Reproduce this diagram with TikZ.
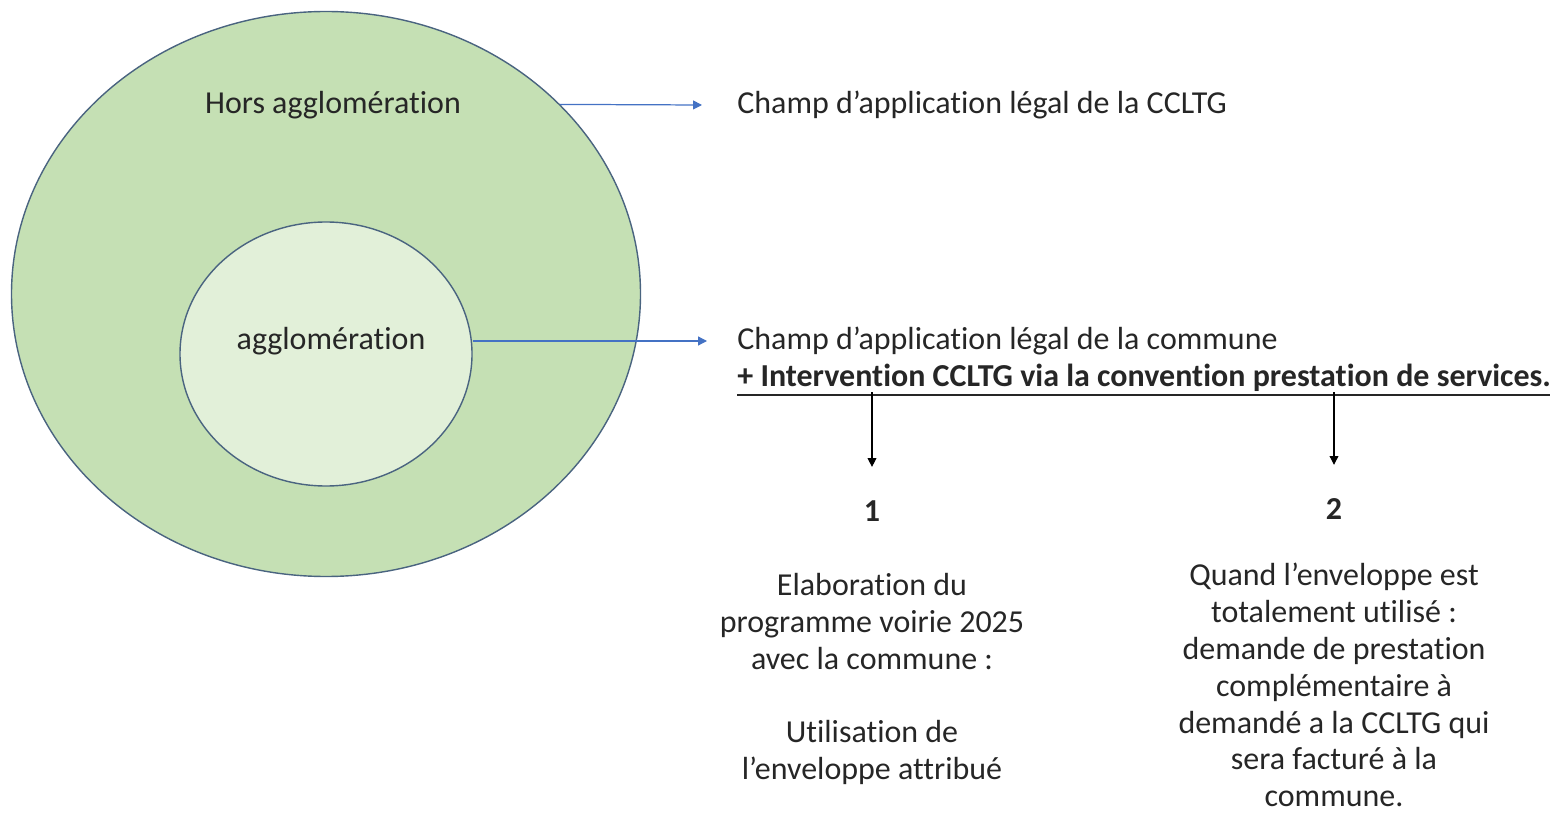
\documentclass[tikz,border=0pt]{standalone}
\usepackage{fontspec}
\setmainfont[Ligatures=NoCommon]{Carlito}
\usetikzlibrary{arrows.meta, positioning, calc, shapes.geometric}
\definecolor{outerfill}{RGB}{197,224,180}
\definecolor{innerfill}{RGB}{226,240,217}
\definecolor{rimcol}{RGB}{74,100,128}
\definecolor{linkblue}{RGB}{68,114,196}

\begin{document}
\begin{tikzpicture}[>={Triangle[length=5pt,width=5pt]}, every node/.style={font=\fontsize{18.2}{21}\selectfont, text=black!85}]
\useasboundingbox (0,0) rectangle (31,16.3);
% the two zones
\node[ellipse, draw=rimcol, line width=0.8pt, fill=outerfill, minimum width=12.58cm, minimum height=11.3cm, inner sep=0pt] (outer) at (6.52,10.42) {};
\node[ellipse, draw=rimcol, line width=0.8pt, fill=innerfill, minimum width=5.84cm, minimum height=5.28cm, inner sep=0pt] (inner) at (6.52,9.22) {};
\node (hors) at (6.66,14.2) {Hors agglomération};
\node (aggl) at (6.62,9.48) {agglomération};
% what applies to each zone
\node[anchor=west, inner sep=0pt] (champA) at (14.74,14.2) {Champ d’application légal de la CCLTG};
\node[anchor=west, inner sep=0pt] (champB) at (14.74,9.48) {Champ d’application légal de la commune};
\node[anchor=west, inner sep=0pt, font=\fontsize{18.2}{21}\selectfont\bfseries] (conv) at (14.74,8.74) {+ Intervention CCLTG via la convention prestation de services.};
\draw[black!85, line width=1.2pt] ($(conv.south west)+(0,-0.05)$) -- ($(conv.south east)+(0,-0.05)$);
\draw[->, linkblue, line width=0.7pt] (outer.39) -- ([xshift=-0.7cm]champA.west);
\draw[->, linkblue, line width=0.7pt] (inner.east |- champB.west) -- ([xshift=-0.6cm]champB.west);
% the two cases
\node[font=\fontsize{18.2}{21}\selectfont\bfseries] (num1) at (17.44,6.08) {1};
\node[font=\fontsize{18.2}{21}\selectfont\bfseries] (num2) at (26.68,6.12) {2};
\draw[->, black, line width=0.6pt] (num1 |- conv.south) -- ([yshift=0.55cm]num1.north);
\draw[->, black, line width=0.6pt] (num2 |- conv.south) -- ([yshift=0.55cm]num2.north);
\node[align=center, inner sep=0pt] (case1) at (17.44,2.72) {Elaboration du\\programme voirie 2025\\avec la commune :\\[21pt]Utilisation de\\l’enveloppe attribué};
\node[align=center, inner sep=0pt] (case2) at (26.68,2.6) {Quand l’enveloppe est\\totalement utilisé :\\demande de prestation\\complémentaire à\\demandé a la CCLTG qui\\sera facturé à la\\commune.};
\end{tikzpicture}
\end{document}
